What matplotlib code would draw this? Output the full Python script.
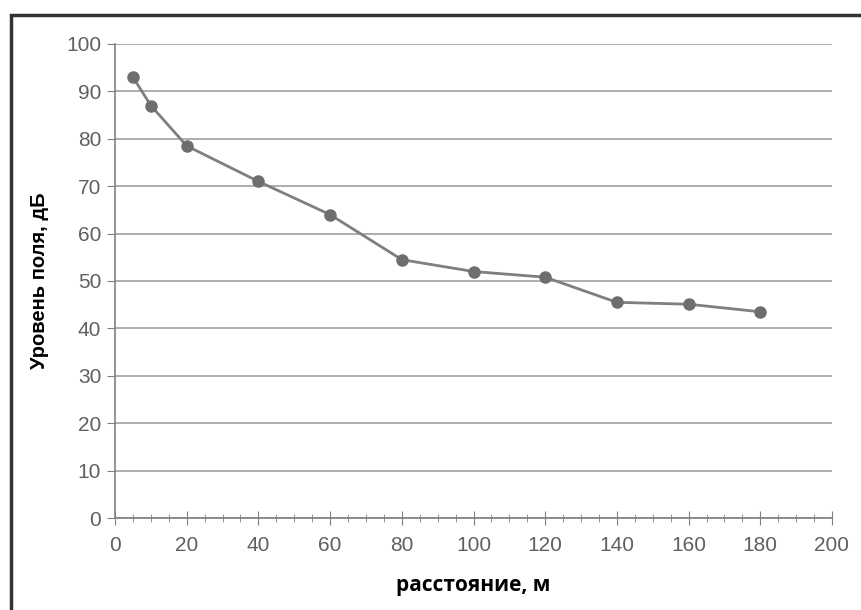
import matplotlib.pyplot as plt
from matplotlib.patches import Rectangle
from matplotlib.ticker import MultipleLocator

# Данные: расстояние (м) и уровень поля (дБ)
distance = [5, 10, 20, 40, 60, 80, 100, 120, 140, 160, 180]
level = [93, 87, 78.5, 71, 64, 54.5, 52, 50.8, 45.5, 45.1, 43.5]

fig = plt.figure(figsize=(8.61, 6.10), dpi=100)
ax = fig.add_axes([0.1336, 0.1508, 0.8327, 0.7771])

# Рамка вокруг всей диаграммы
fig.patches.append(Rectangle((11 / 861, -0.05), 1.05, (610 - 15) / 610 + 0.05,
                             transform=fig.transFigure, fill=False,
                             edgecolor='#333333', linewidth=2.5))

ax.plot(distance, level, color='#7f7f7f', linewidth=2, marker='o',
        markersize=8, markerfacecolor='#6e6e6e', markeredgecolor='#6e6e6e', zorder=3)

ax.set_xlim(0, 200)
ax.set_ylim(0, 100)
ax.xaxis.set_major_locator(MultipleLocator(20))
ax.xaxis.set_minor_locator(MultipleLocator(5))
ax.yaxis.set_major_locator(MultipleLocator(10))

ax.grid(axis='y', color='#a0a0a0', linewidth=1.2)
ax.set_axisbelow(True)
for s in ['top', 'right']:
    ax.spines[s].set_visible(False)
for s in ['left', 'bottom']:
    ax.spines[s].set_color('#808080')
    ax.spines[s].set_linewidth(1.2)

ax.tick_params(axis='x', which='major', direction='inout', length=10, color='#808080',
               labelsize=15, labelcolor='#606060', pad=8)
ax.tick_params(axis='x', which='minor', direction='inout', length=6, color='#808080')
ax.tick_params(axis='y', direction='out', length=6, color='#808080',
               labelsize=15, labelcolor='#606060', pad=4)
for lbl in ax.get_xticklabels() + ax.get_yticklabels():
    lbl.set_family('Liberation Sans')

ax.set_xlabel('расстояние, м', fontsize=15, fontweight='bold', family='Open Sans', labelpad=14)
ax.set_ylabel('Уровень поля, дБ', fontsize=14.5, fontweight='bold', family='Liberation Sans', labelpad=12)

fig.savefig('out.png', dpi=100)
